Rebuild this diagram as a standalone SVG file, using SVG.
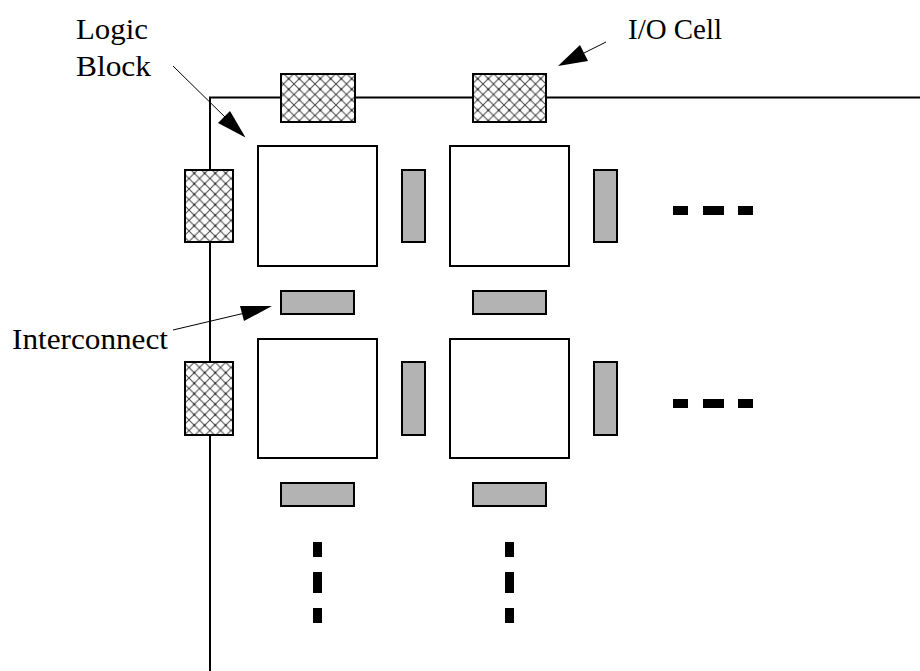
<svg xmlns="http://www.w3.org/2000/svg" width="920" height="671" viewBox="0 0 920 671">
<defs>
<pattern id="hatch" patternUnits="userSpaceOnUse" width="10.5" height="10.5">
<rect width="10.5" height="10.5" fill="#fff"/>
<path d="M0,0 L10.5,10.5 M10.5,0 L0,10.5" stroke="#444" stroke-width="1"/>
<rect x="4.5" y="4.5" width="1.5" height="1.5" fill="#000"/>
</pattern>
<style>
.io{fill:url(#hatch);stroke:#000;stroke-width:2}
.lb{fill:#fff;stroke:#000;stroke-width:2}
.ic{fill:#b3b3b3;stroke:#000;stroke-width:2}
.dot{fill:#000}
.ldr{stroke:#000;stroke-width:1;fill:none}
.head{fill:#000}
</style>
</defs>
<rect width="920" height="671" fill="#fff"/>
<g id="chip-border">
<path d="M210,671 L210,97.5 L920,97.5" fill="none" stroke="#000" stroke-width="2"/>
</g>
<g id="io-cells">
<rect id="io-top-1" class="io" x="281" y="74" width="74" height="48"/>
<rect id="io-top-2" class="io" x="473" y="74" width="73" height="48"/>
<rect id="io-left-1" class="io" x="185" y="170" width="48" height="72"/>
<rect id="io-left-2" class="io" x="185" y="362" width="48" height="73"/>
</g>
<g id="logic-blocks">
<rect id="lb-11" class="lb" x="258" y="146" width="119" height="120"/>
<rect id="lb-12" class="lb" x="450" y="146" width="119" height="120"/>
<rect id="lb-21" class="lb" x="258" y="339" width="119" height="119"/>
<rect id="lb-22" class="lb" x="450" y="339" width="119" height="119"/>
</g>
<g id="interconnects">
<rect class="ic" x="402" y="170" width="23" height="72"/>
<rect class="ic" x="594" y="170" width="23" height="72"/>
<rect class="ic" x="402" y="362" width="23" height="73"/>
<rect class="ic" x="594" y="362" width="23" height="73"/>
<rect class="ic" x="281" y="291" width="73" height="23"/>
<rect class="ic" x="473" y="291" width="73" height="23"/>
<rect class="ic" x="281" y="483" width="73" height="23"/>
<rect class="ic" x="473" y="483" width="73" height="23"/>
</g>
<g id="ellipses">
<rect class="dot" x="673" y="206" width="15" height="9"/>
<rect class="dot" x="703" y="206" width="21" height="9"/>
<rect class="dot" x="738" y="206" width="15" height="9"/>
<rect class="dot" x="673" y="399" width="15" height="9"/>
<rect class="dot" x="703" y="399" width="21" height="9"/>
<rect class="dot" x="738" y="399" width="15" height="9"/>
<rect class="dot" x="313" y="542" width="9" height="15"/>
<rect class="dot" x="313" y="572" width="9" height="21"/>
<rect class="dot" x="313" y="608" width="9" height="15"/>
<rect class="dot" x="505" y="542" width="9" height="15"/>
<rect class="dot" x="505" y="572" width="9" height="21"/>
<rect class="dot" x="505" y="608" width="9" height="15"/>
</g>
<g id="connectors">
<line class="ldr" x1="173" y1="66" x2="228" y2="120"/>
<polygon class="head" points="245.5,137.5 218,123 230,111"/>
<line class="ldr" x1="606" y1="42" x2="582" y2="54"/>
<polygon class="head" points="558,66 580,45 588,61"/>
<line class="ldr" x1="173" y1="330" x2="245" y2="313"/>
<polygon class="head" points="272,306 240,306 244,321"/>
</g>
<g id="labels" font-family="Liberation Serif, Times New Roman, serif" font-size="30" fill="#000">
<text x="76" y="39" textLength="72" lengthAdjust="spacingAndGlyphs">Logic</text>
<text x="76" y="76" textLength="75" lengthAdjust="spacingAndGlyphs">Block</text>
<text x="628" y="39" textLength="94" lengthAdjust="spacingAndGlyphs">I/O Cell</text>
<text x="12" y="349" textLength="156" lengthAdjust="spacingAndGlyphs">Interconnect</text>
</g>
</svg>
